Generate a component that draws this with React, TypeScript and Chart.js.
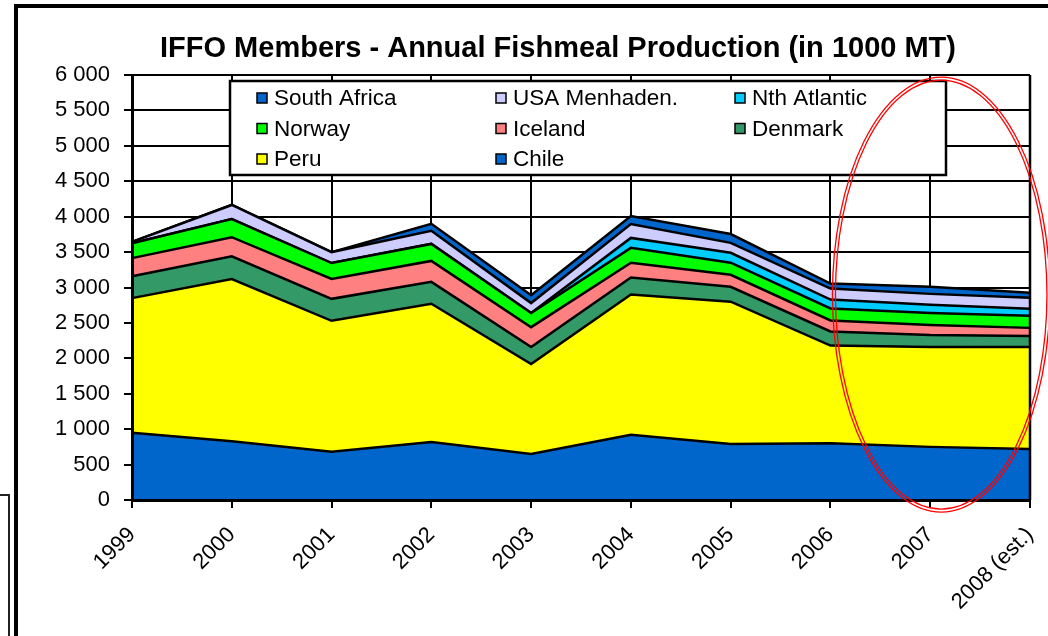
import React, { useEffect, useRef } from 'react';
import { Chart, registerables } from 'chart.js';

Chart.register(...registerables);

const TITLE = 'IFFO Members - Annual Fishmeal Production (in 1000 MT)';
const FONT = "'Liberation Sans', Arial, Helvetica, sans-serif";

const years = ['1999', '2000', '2001', '2002', '2003', '2004', '2005', '2006', '2007', '2008 (est.)'];

// stacking order bottom -> top
const chile = [950, 830, 680, 820, 650, 920, 790, 800, 750, 720];
const peru = [1900, 2290, 1850, 1950, 1270, 1980, 2010, 1380, 1410, 1440];
const denmark = [310, 320, 310, 310, 240, 240, 210, 200, 170, 155];
const iceland = [255, 270, 280, 295, 280, 210, 170, 155, 140, 115];
const norway = [210, 255, 225, 240, 200, 210, 170, 170, 170, 170];
const nthAtlantic = [0, 0, 0, 0, 0, 140, 140, 125, 115, 100];
const usaMenhaden = [20, 200, 155, 185, 140, 195, 140, 155, 155, 155];
const southAfrica = [0, 0, 0, 100, 110, 115, 125, 70, 100, 70];

const Y_MIN = 0;
const Y_MAX = 6000;
const Y_STEP = 500;

// highlighted region (red ellipse) in data units
const HL_CENTER_INDEX = 8.11;
const HL_HALF_WIDTH = 1.09;
const HL_CENTER_VALUE = 2900;
const HL_HALF_HEIGHT = 3070;

const series = [
  { label: 'Chile', data: chile, color: '#0066CC' },
  { label: 'Peru', data: peru, color: '#FFFF00' },
  { label: 'Denmark', data: denmark, color: '#339966' },
  { label: 'Iceland', data: iceland, color: '#FF8080' },
  { label: 'Norway', data: norway, color: '#00FF00' },
  { label: 'Nth Atlantic', data: nthAtlantic, color: '#00CCFF' },
  { label: 'USA Menhaden.', data: usaMenhaden, color: '#CCCCFF' },
  { label: 'South Africa', data: southAfrica, color: '#0066CC' },
];

function fmt(v: number): string {
  if (v < 1000) return String(v);
  const th = Math.floor(v / 1000);
  const r = v % 1000;
  return `${th} ${String(r).padStart(3, '0')}`;
}

const decorPlugin = {
  id: 'decor',
  afterDatasetsDraw(chart: any) {
    const { ctx, chartArea: a } = chart;
    ctx.save();
    // right edge of plot
    ctx.strokeStyle = '#000';
    ctx.lineWidth = 2.5;
    ctx.beginPath();
    ctx.moveTo(a.right, a.top);
    ctx.lineTo(a.right, a.bottom);
    ctx.stroke();

    // title
    ctx.fillStyle = '#000';
    ctx.font = `bold 29px ${FONT}`;
    ctx.textAlign = 'center';
    ctx.textBaseline = 'alphabetic';
    ctx.fillText(TITLE, 558, 57);

    // legend
    const box = { x: 230, y: 81, w: 716, h: 94 };
    ctx.fillStyle = '#fff';
    ctx.fillRect(box.x, box.y, box.w, box.h);
    ctx.lineWidth = 2.5;
    ctx.strokeStyle = '#000';
    ctx.strokeRect(box.x, box.y, box.w, box.h);
    const items = chart.data.datasets.slice().reverse();
    items.forEach((ds: any, i: number) => {
      const col = i % 3;
      const row = Math.floor(i / 3);
      const mx = box.x + 27 + col * 239;
      const cy = box.y + 17 + row * 30.5;
      ctx.fillStyle = ds.backgroundColor;
      ctx.fillRect(mx, cy - 5, 10, 10);
      ctx.lineWidth = 1.5;
      ctx.strokeStyle = '#000';
      ctx.strokeRect(mx, cy - 5, 10, 10);
      ctx.fillStyle = '#000';
      ctx.font = `22.5px ${FONT}`;
      ctx.textAlign = 'left';
      ctx.textBaseline = 'middle';
      ctx.fillText(ds.label, mx + 17, cy + 1);
    });
    ctx.restore();
  },
  afterDraw(chart: any) {
    const { ctx } = chart;
    const x = chart.scales.x;
    const y = chart.scales.y;
    const cx = x.getPixelForValue(HL_CENTER_INDEX);
    const cy = y.getPixelForValue(HL_CENTER_VALUE);
    const rx = x.getPixelForValue(HL_CENTER_INDEX + HL_HALF_WIDTH) - cx;
    const ry = y.getPixelForValue(0) - y.getPixelForValue(HL_HALF_HEIGHT);
    ctx.save();
    ctx.strokeStyle = '#FF0000';
    ctx.lineWidth = 1.3;
    ctx.beginPath();
    ctx.ellipse(cx, cy, rx, ry, 0, 0, Math.PI * 2);
    ctx.stroke();
    ctx.beginPath();
    ctx.ellipse(cx, cy, rx - 3, ry - 3, 0, 0, Math.PI * 2);
    ctx.stroke();
    ctx.restore();
  },
};

export default function App() {
  const ref = useRef<HTMLCanvasElement>(null);

  useEffect(() => {
    if (!ref.current) return;
    Chart.defaults.font.family = FONT;
    Chart.defaults.color = '#000';
    const chart = new Chart(ref.current, {
      type: 'line',
      data: {
        labels: years,
        datasets: series.map((s, i) => ({
          label: s.label,
          data: s.data,
          backgroundColor: s.color,
          borderColor: '#000',
          borderWidth: 2.5,
          pointRadius: 0,
          pointHoverRadius: 0,
          tension: 0,
          fill: i === 0 ? 'origin' : '-1',
        })),
      },
      options: {
        responsive: false,
        animation: false,
        events: [],
        layout: { padding: { left: 20, right: 18, top: 75, bottom: 0 } },
        plugins: {
          legend: { display: false },
          tooltip: { enabled: false },
          title: { display: false },
        },
        scales: {
          x: {
            type: 'category',
            offset: false,
            grid: { color: '#000', lineWidth: 2, tickLength: 8, drawTicks: true },
            border: { display: true, color: '#000', width: 3, z: 1 },
            ticks: {
              autoSkip: false,
              maxRotation: 45,
              minRotation: 45,
              padding: 14,
              color: '#000',
              font: { size: 22, family: FONT },
            },
            afterFit: (scale: any) => {
              scale.height = 136;
              scale.paddingLeft = 0;
              scale.paddingRight = 0;
            },
          },
          y: {
            stacked: true,
            min: Y_MIN,
            max: Y_MAX,
            grid: { color: '#000', lineWidth: 2, tickLength: 8, drawTicks: true },
            border: { display: true, color: '#000', width: 3, z: 1 },
            ticks: {
              stepSize: Y_STEP,
              padding: 14,
              color: '#000',
              font: { size: 22, family: FONT },
              callback: (v: any) => fmt(Number(v)),
            },
            afterFit: (scale: any) => {
              scale.width = 112;
            },
          },
        },
      },
      plugins: [decorPlugin],
    } as any);
    return () => chart.destroy();
  }, []);

  return (
    <div
      style={{
        position: 'absolute',
        left: 0,
        top: 0,
        width: 1048,
        height: 636,
        overflow: 'hidden',
        background: '#fff',
      }}
    >
      <canvas ref={ref} width={1048} height={636} style={{ position: 'absolute', left: 0, top: 0 }} />
      <div
        style={{
          position: 'absolute',
          left: 14,
          top: 4,
          width: 1100,
          height: 700,
          borderTop: '4px solid #000',
          borderLeft: '4px solid #000',
          pointerEvents: 'none',
        }}
      />
      <div
        style={{
          position: 'absolute',
          left: -10,
          top: 494,
          width: 18,
          height: 200,
          borderTop: '2px solid #222',
          borderRight: '2px solid #222',
          pointerEvents: 'none',
        }}
      />
    </div>
  );
}
